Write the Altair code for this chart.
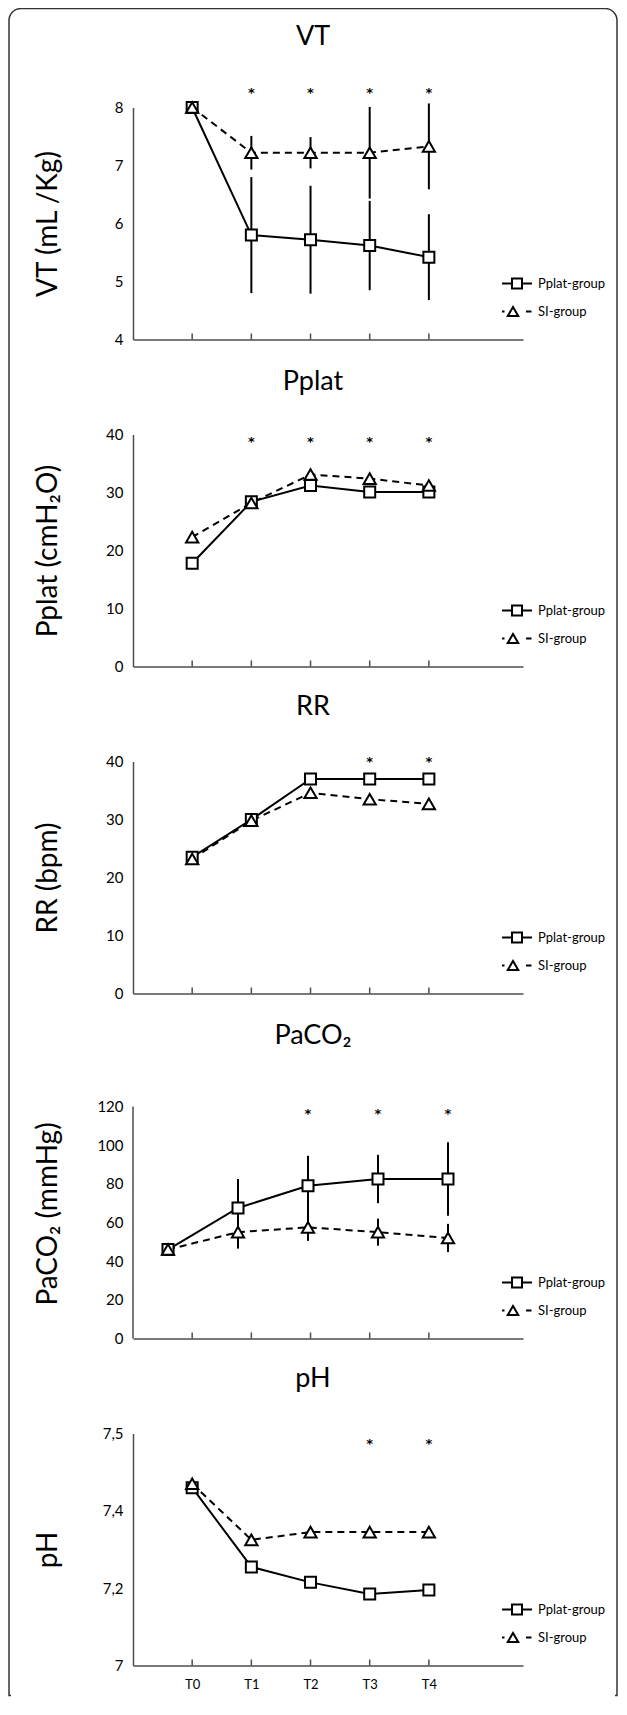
import json
import altair as alt
import pandas as pd

FONT = "Lato"
AXIS_COLOR = "#4d4d4d"

# ---------------- data ----------------
times = ["T0", "T1", "T2", "T3", "T4"]
groups = ["Pplat-group", "SI-group"]

# VT (mL/Kg)
vt_pplat = [8.0, 5.8, 5.72, 5.62, 5.42]
vt_si = [8.0, 7.22, 7.22, 7.22, 7.33]
vt_pplat_sd = [0, 1.0, 0.93, 0.77, 0.74]
vt_si_sd = [0, 0.29, 0.27, 0.79, 0.74]
vt_sig = ["T1", "T2", "T3", "T4"]
vt_ticks = [4, 5, 6, 7, 8]
vt_tick_labels = ["4", "5", "6", "7", "8"]

# Pplat (cmH2O)
pp_pplat = [17.8, 28.4, 31.2, 30.1, 30.1]
pp_si = [22.3, 28.2, 33.1, 32.4, 31.2]
pp_sig = ["T1", "T2", "T3", "T4"]
pp_ticks = [0, 10, 20, 30, 40]
pp_tick_labels = ["0", "10", "20", "30", "40"]

# RR (bpm)
rr_pplat = [23.5, 30.0, 37.0, 37.0, 37.0]
rr_si = [23.2, 29.8, 34.6, 33.5, 32.7]
rr_sig = ["T3", "T4"]
rr_ticks = [0, 10, 20, 30, 40]
rr_tick_labels = ["0", "10", "20", "30", "40"]

# PaCO2 (mmHg)
pa_pplat = [46, 67.5, 79, 82.5, 82.5]
pa_si = [46, 55, 57.5, 55, 52]
pa_pplat_sd = [0, 15, 15.5, 12.5, 19]
pa_si_sd = [0, 8.5, 7, 7, 7.3]
pa_sig = ["T2", "T3", "T4"]
pa_ticks = [0, 20, 40, 60, 80, 100, 120]
pa_tick_labels = ["0", "20", "40", "60", "80", "100", "120"]

# pH
ph_pplat = [7.46, 7.255, 7.215, 7.185, 7.195]
ph_si = [7.47, 7.325, 7.345, 7.345, 7.345]
ph_sig = ["T3", "T4"]
ph_ticks = [7.0, 7.2, 7.4, 7.6]
ph_tick_labels = ["7", "7,2", "7,4", "7,5"]

# ---------------- layout constants ----------------
PANEL_W = 390
PLOT_H = 232
TICK_XDOM = [-1, 5.5907]          # x extent of every panel, in time-step units
SHIFTED_XDOM = [-0.5, 5.0714]     # PaCO2 markers are drawn slightly off the ticks


def long_table(pplat, si, pplat_sd, si_sd):
    rows = []
    for g, means, sds in ((groups[0], pplat, pplat_sd), (groups[1], si, si_sd)):
        for i, t in enumerate(times):
            sd = sds[i] if sds is not None else 0
            rows.append({"time": t, "ti": i, "group": g, "mean": means[i], "sd": sd,
                         "lo": means[i] - sd, "hi": means[i] + sd})
    return pd.DataFrame(rows)


def make_panel(title, ytitle, domain, tick_values, tick_labels, pplat, si,
               pplat_sd, si_sd, sig, star_px, title_y, top_gap=0,
               data_xdom=TICK_XDOM, show_labels=False, border=False):
    H = PLOT_H + top_gap
    df = long_table(pplat, si, pplat_sd, si_sd)
    lo_d, hi_d = domain
    dom_top = hi_d + (hi_d - lo_d) * top_gap / PLOT_H
    yscale = alt.Scale(domain=[lo_d, dom_top], nice=False, zero=False)
    label_expr = f"{json.dumps(tick_labels)}[indexof({json.dumps(tick_values)}, datum.value)]"
    yaxis = alt.Axis(values=tick_values, labelExpr=label_expr, title=ytitle,
                     domain=(top_gap == 0),
                     ticks=False, grid=False, labelPadding=10, labelFontSize=15,
                     labelColor="black", titleFontSize=28, titleFontWeight="normal",
                     titleColor="black", titleX=-71, titleBaseline="bottom")
    tick_scale = alt.Scale(domain=TICK_XDOM, nice=False, zero=False)
    data_scale = alt.Scale(domain=data_xdom, nice=False, zero=False)
    xd = alt.X("ti:Q", scale=data_scale, axis=None)

    def Y(field):
        return alt.Y(field, type="quantitative", scale=yscale, axis=yaxis)

    def YD(v):
        return alt.YDatum(v, type="quantitative", scale=yscale, axis=yaxis)

    base = alt.Chart(df)
    one = alt.Chart(pd.DataFrame({"k": [0]}))
    layers = []
    if border:
        layers.append(one.mark_rect(fillOpacity=0, stroke="#333333", strokeWidth=1.5,
                                    cornerRadiusTopLeft=12, cornerRadiusTopRight=12).encode(
            x=alt.value(-124), x2=alt.value(484), y=alt.value(-99), y2=alt.value(1588)))
        layers.append(one.mark_rule(color="white", strokeWidth=5).encode(
            x=alt.value(-122), x2=alt.value(482), y=alt.value(1588)))
    if top_gap:
        layers.append(one.mark_rule(color=AXIS_COLOR, strokeWidth=1.5).encode(
            x=alt.value(0), y=YD(lo_d), y2=alt.Y2Datum(hi_d)))
    if pplat_sd is not None:
        layers.append(base.transform_filter("datum.sd > 0").mark_rule(
            color="black", strokeWidth=2).encode(x=xd, y=Y("lo"), y2="hi"))
    layers.append(base.transform_filter(alt.datum.group == groups[1]).mark_line(
        color="black", strokeWidth=2, strokeDash=[7, 5]).encode(x=xd, y=Y("mean")))
    layers.append(base.transform_filter(alt.datum.group == groups[0]).mark_line(
        color="black", strokeWidth=2).encode(x=xd, y=Y("mean")))
    layers.append(base.transform_filter(alt.datum.group == groups[0]).mark_point(
        shape="square", size=121, filled=True, fill="white", stroke="black",
        strokeWidth=2, opacity=1).encode(x=xd, y=Y("mean")))
    layers.append(base.transform_filter(alt.datum.group == groups[1]).mark_point(
        shape="triangle-up", size=150, filled=True, fill="white", stroke="black",
        strokeWidth=2, opacity=1).encode(x=xd, y=Y("mean")))
    # significance markers sit in a row just above the data
    stars = pd.DataFrame({"ti": [times.index(t) for t in sig]})
    layers.append(alt.Chart(stars).mark_text(
        text="*", font="DejaVu Sans", fontSize=13, fontWeight="bold", color="black",
        baseline="middle").encode(x=xd, y=alt.value(top_gap + star_px)))
    xaxis = alt.Axis(title=None, ticks=False, grid=False, labels=show_labels,
                     values=list(range(len(times))),
                     labelExpr=f"{json.dumps(times)}[datum.value]",
                     labelFontSize=13, labelPadding=13, labelAngle=0, labelColor="black")
    tick_df = pd.DataFrame({"ti": list(range(len(times)))})
    layers.append(alt.Chart(tick_df).mark_rule(color=AXIS_COLOR, strokeWidth=1.5).encode(
        x=alt.X("ti:Q", scale=tick_scale, axis=xaxis),
        y=alt.value(H), y2=alt.value(H - 6)))
    # panel title
    layers.append(alt.Chart(pd.DataFrame({"title": [title]})).mark_text(
        font=FONT, fontSize=27, color="black", align="center", baseline="alphabetic").encode(
        text="title:N", x=alt.value(180), y=alt.value(top_gap + title_y)))
    # key (line sample + marker + label for each group)
    ly = [top_gap + 176, top_gap + 204]
    layers.append(one.mark_rule(color="black", strokeWidth=2).encode(
        x=alt.value(369), x2=alt.value(399), y=alt.value(ly[0])))
    layers.append(one.mark_rule(color="black", strokeWidth=2, strokeDash=[2.5, 21.5, 5.5, 10]).encode(
        x=alt.value(369), x2=alt.value(399), y=alt.value(ly[1])))
    layers.append(one.mark_point(shape="square", size=100, filled=True, fill="white",
                                 stroke="black", strokeWidth=2, opacity=1).encode(
        x=alt.value(384), y=alt.value(ly[0])))
    layers.append(one.mark_point(shape="triangle-up", size=110, filled=True, fill="white",
                                 stroke="black", strokeWidth=2, opacity=1).encode(
        x=alt.value(380), y=alt.value(ly[1])))
    key_df = pd.DataFrame({"group": groups, "row": [0, 1]})
    layers.append(alt.Chart(key_df).transform_filter("datum.row == 0").mark_text(
        font=FONT, fontSize=13, color="black", align="left", baseline="middle").encode(
        text="group:N", x=alt.value(405), y=alt.value(ly[0])))
    layers.append(alt.Chart(key_df).transform_filter("datum.row == 1").mark_text(
        font=FONT, fontSize=13, color="black", align="left", baseline="middle").encode(
        text="group:N", x=alt.value(405), y=alt.value(ly[1])))
    return alt.layer(*layers).resolve_scale(x="independent").properties(width=PANEL_W, height=H)


p1 = make_panel("VT", "VT (mL /Kg)", [4, 8], vt_ticks, vt_tick_labels, vt_pplat, vt_si,
                vt_pplat_sd, vt_si_sd, vt_sig, -15, -63, border=True)
p2 = make_panel("Pplat", "Pplat (cmH\u2082O)", [0, 40], pp_ticks, pp_tick_labels, pp_pplat, pp_si,
                None, None, pp_sig, 7, -45)
p3 = make_panel("RR", "RR (bpm)", [0, 40], rr_ticks, rr_tick_labels, rr_pplat, rr_si,
                None, None, rr_sig, 0, -47)
p4 = make_panel("PaCO\u2082", "PaCO\u2082 (mmHg)", [0, 120], pa_ticks, pa_tick_labels, pa_pplat, pa_si,
                pa_pplat_sd, pa_si_sd, pa_sig, 7, -63, top_gap=18, data_xdom=SHIFTED_XDOM)
p5 = make_panel("pH", "pH", [7.0, 7.6], ph_ticks, ph_tick_labels, ph_pplat, ph_si,
                None, None, ph_sig, 10, -47, show_labels=True)

chart = alt.vconcat(p1, p2, p3, p4, p5, spacing=95, bounds="flush").properties(
    padding={"top": -0.5, "bottom": 0, "left": 0, "right": 0}, background="white"
).configure_view(strokeWidth=0).configure_axis(
    labelFont=FONT, titleFont=FONT, domainColor=AXIS_COLOR, domainWidth=1.5
)

chart.save("out.html", embed_options={"renderer": "svg", "actions": False})
